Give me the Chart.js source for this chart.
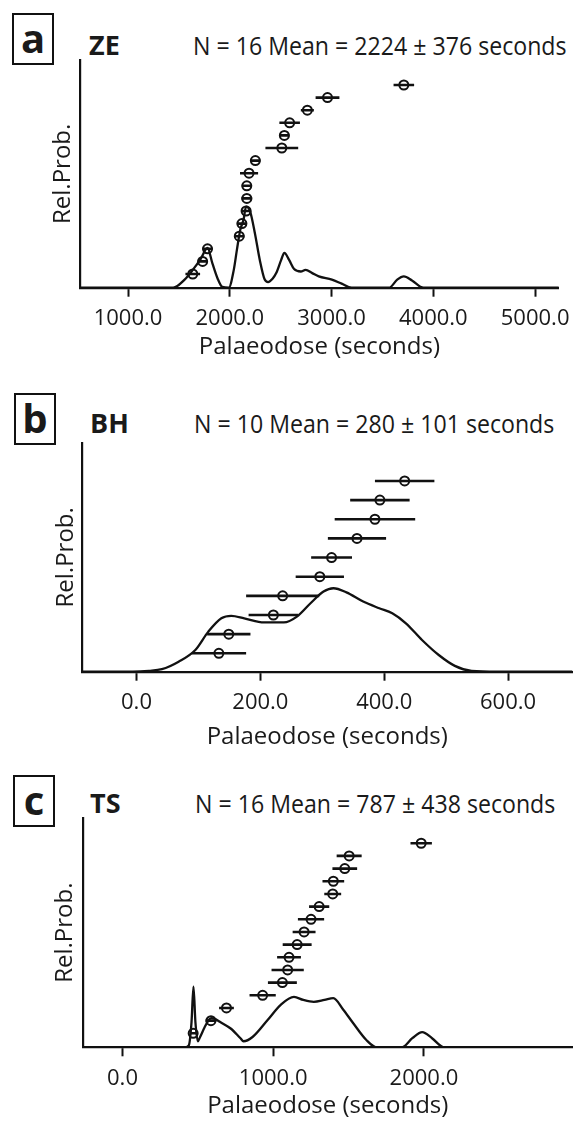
<!DOCTYPE html>
<html>
<head>
<meta charset="utf-8">
<script src="https://cdn.jsdelivr.net/npm/chart.js@4.4.1/dist/chart.umd.min.js"></script>
<style>
  body { margin: 0; background: #fff; width: 579px; height: 1121px; position: relative; overflow: hidden; font-family: "Open Sans", sans-serif; color: #1a1a1a; }
  canvas { position: absolute; left: 0; }
  .box { position: absolute; width: 42px; height: 52px; box-sizing: border-box; border: 2.5px solid #111; font-weight: 700; font-size: 40px; line-height: 46px; text-align: center; }
  .site { position: absolute; font-weight: 700; font-size: 27px; line-height: 30px; }
  .stat { position: absolute; font-size: 26px; line-height: 30px; white-space: nowrap; transform: scaleX(0.89); transform-origin: 0 50%; }
</style>
</head>
<body>
<div class="box" style="left:12px;top:13px;">a</div>
<div class="site" style="left:89px;top:30px;">ZE</div>
<div class="stat" style="left:193px;top:30px;">N = 16 Mean = 2224 ± 376 seconds</div>
<canvas id="chartA" width="579" height="375" style="top:0px"></canvas>

<div class="box" style="left:14px;top:393px;">b</div>
<div class="site" style="left:90px;top:408px;">BH</div>
<div class="stat" style="left:194px;top:408px;">N = 10 Mean = 280 ± 101 seconds</div>
<canvas id="chartB" width="579" height="385" style="top:375px"></canvas>

<div class="box" style="left:13px;top:775px;">c</div>
<div class="site" style="left:90px;top:788px;">TS</div>
<div class="stat" style="left:195px;top:788px;">N = 16 Mean = 787 ± 438 seconds</div>
<canvas id="chartC" width="579" height="361" style="top:760px"></canvas>

<script>
// ZE: individual palaeodoses (top to bottom) and 1-sigma errors
const zeDose = [3710, 2960, 2762, 2588, 2536, 2511, 2251, 2189, 2167, 2167, 2160, 2119, 2093, 1781, 1733, 1636];
const zeErr  = [101, 117, 64, 101, 50, 161, 50, 89, 50, 53, 50, 50, 50, 50, 50, 72];
// ZE: probability density curve (relative, % of max)
const zeKdeX = [528, 1444, 1556, 1636, 1716, 1781, 1829, 1878, 1926, 1990, 2039, 2070, 2102, 2135, 2160, 2200, 2247, 2295, 2343, 2376, 2420, 2456, 2504, 2536, 2584, 2632, 2697, 2745, 2810, 2874, 3003, 3099, 3196, 3565, 3645, 3710, 3790, 3903, 5233];
const zeKdeY = [0, 0, 10, 22, 36, 49, 30, 12, 1, 0, 22, 47, 71, 84, 100, 94, 67, 34, 10, 7, 11, 18, 34, 43, 34, 23, 20, 22, 18, 14, 10, 5, 0, 0, 10, 14, 9, 0, 0];
const zeTicks = [1000, 2000, 3000, 4000, 5000];

// BH
const bhDose = [433, 393, 385, 356, 315, 296, 236, 221, 149, 133];
const bhErr  = [48, 48, 65, 47, 33, 39, 59, 40, 35, 44];
const bhKdeX = [-88, -6, 20, 41, 68, 95, 116, 137, 153, 174, 206, 238, 259, 281, 302, 318, 339, 366, 392, 413, 435, 461, 488, 514, 541, 583, 620, 704];
const bhKdeY = [0, 0, 1, 3, 12, 26, 48, 64, 67, 64, 59, 59, 66, 82, 96, 100, 95, 84, 76, 70, 58, 38, 20, 7, 1, 0, 0, 0];
const bhTicks = [0, 200, 400, 600];

// TS
const tsDose = [1982, 1504, 1475, 1399, 1395, 1305, 1251, 1205, 1159, 1105, 1096, 1061, 930, 690, 587, 469];
const tsErr  = [71, 83, 82, 72, 56, 67, 87, 76, 96, 79, 107, 96, 87, 49, 36, 20];
const tsKdeX = [-262, 416, 440, 458, 471, 484, 500, 515, 545, 575, 590, 620, 646, 718, 783, 803, 863, 963, 1050, 1138, 1200, 1269, 1340, 1399, 1465, 1530, 1618, 1686, 1855, 1923, 1989, 2054, 2133, 2986];
const tsKdeY = [0, 0, 3, 41, 100, 41, 10, 17, 33, 46, 48, 46, 42, 31, 15, 10, 17, 45, 70, 83, 78, 75, 78, 81, 62, 40, 12, 0, 0, 15, 25, 15, 0, 0];
const tsTicks = [0, 1000, 2000];

Chart.defaults.font.family = '"Open Sans", sans-serif';
Chart.defaults.color = '#1a1a1a';

function makePanel(id, p) {
  const n = p.dose.length;
  const curve = p.kdeX.map((x, i) => ({ x: x, y: p.kdeY[i] }));
  const bars = [];
  const pts = [];
  p.dose.forEach((d, i) => {
    const row = n - i;
    bars.push({ x: d - p.err[i], y: row }, { x: d + p.err[i], y: row }, { x: d, y: null });
    pts.push({ x: d, y: row });
  });

  new Chart(document.getElementById(id), {
    type: 'scatter',
    data: {
      datasets: [
        { data: curve, showLine: true, yAxisID: 'y', borderColor: '#111', borderWidth: 2.3,
          pointRadius: 0, cubicInterpolationMode: 'monotone', fill: false },
        { data: bars, showLine: true, spanGaps: false, yAxisID: 'yp', borderColor: '#111', borderWidth: 2.6,
          pointRadius: 0, tension: 0 },
        { data: pts, yAxisID: 'yp', pointRadius: 4.5, pointBorderWidth: 2,
          borderColor: '#111', backgroundColor: 'rgba(0,0,0,0)' }
      ]
    },
    options: {
      responsive: false,
      animation: false,
      devicePixelRatio: 1,
      layout: { padding: { top: p.padTop, right: p.padRight, left: 0, bottom: 0 } },
      plugins: { legend: { display: false }, tooltip: { enabled: false } },
      scales: {
        x: {
          type: 'linear', min: p.xMin, max: p.xMax,
          afterBuildTicks: s => { s.ticks = p.ticks.map(v => ({ value: v })); },
          afterFit: s => { s.height = p.xHeight; },
          ticks: { callback: v => v.toFixed(1), font: { size: 22 }, color: '#1a1a1a', padding: 9, maxRotation: 0, autoSkip: false },
          grid: { drawOnChartArea: false, drawTicks: true, tickLength: 9, tickWidth: 2, tickColor: '#111' },
          border: { display: true, color: '#111', width: 2.2 },
          title: { display: true, text: 'Palaeodose (seconds)', font: { size: 24 }, color: '#1a1a1a', padding: { top: 0, bottom: p.titlePad } }
        },
        y: {
          min: 0, max: p.yMax,
          afterFit: s => { s.width = p.yWidth; },
          ticks: { display: false },
          grid: { display: false },
          border: { display: true, color: '#111', width: 2.2 },
          title: { display: true, text: 'Rel.Prob.', font: { size: 24 }, color: '#1a1a1a', padding: { top: p.yTitlePad, bottom: 0 } }
        },
        yp: { display: false, min: p.rowMin, max: p.rowMax }
      }
    }
  });
}

makePanel('chartA', { dose: zeDose, err: zeErr, kdeX: zeKdeX, kdeY: zeKdeY, ticks: zeTicks,
  xMin: 528, xMax: 5233, yMax: 281, rowMin: -0.087, rowMax: 17.985,
  padTop: 60, padRight: 11, yWidth: 80, xHeight: 87.3, titlePad: 13.6, yTitlePad: 49 });

makePanel('chartB', { dose: bhDose, err: bhErr, kdeX: bhKdeX, kdeY: bhKdeY, ticks: bhTicks,
  xMin: -88, xMax: 704, yMax: 274, rowMin: 0.039, rowMax: 11.982,
  padTop: 68, padRight: 0, yWidth: 82, xHeight: 88.3, titlePad: 8.9, yTitlePad: 51.7 });

makePanel('chartC', { dose: tsDose, err: tsErr, kdeX: tsKdeX, kdeY: tsKdeY, ticks: tsTicks,
  xMin: -262, xMax: 2986, yMax: 378, rowMin: -0.105, rowMax: 17.993,
  padTop: 58, padRight: 0, yWidth: 83, xHeight: 73.7, titlePad: 0, yTitlePad: 51 });
</script>
</body>
</html>
